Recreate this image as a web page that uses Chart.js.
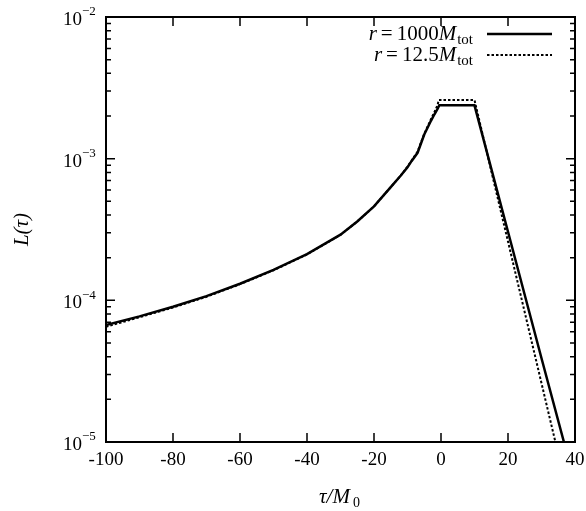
<!DOCTYPE html>
<html>
<head>
<meta charset="utf-8">
<script src="https://cdn.jsdelivr.net/npm/chart.js@4"></script>
<style>
  html, body { margin: 0; padding: 0; background: #fff; }
  #wrap { width: 586px; height: 511px; }
</style>
</head>
<body>
<div id="wrap"><canvas id="chart"></canvas></div>
<script>
// r = 1000 M_tot
const tauFar = [-100, -90, -80, -70, -60, -50, -40, -30, -25, -20, -15, -12, -10, -8.8, -7, -5, -3, -2, -1, -0.5, 10, 20, 30, 40];
const lumFar = [6.7e-5, 7.7e-5, 9.0e-5, 1.07e-4, 1.31e-4, 1.64e-4, 2.12e-4, 2.91e-4, 3.6e-4, 4.6e-4, 6.3e-4, 7.6e-4, 8.7e-4, 9.6e-4, 1.1e-3, 1.48e-3, 1.85e-3, 2.05e-3, 2.25e-3, 2.38e-3, 2.38e-3, 3.05e-4, 3.9e-5, 5.1e-6];
// r = 12.5 M_tot
const tauNear = [-100, -90, -80, -70, -60, -50, -40, -30, -25, -20, -15, -12, -10, -8.8, -7, -5, -3, -2, -1, -0.7, 10, 20, 30, 40];
const lumNear = [6.5e-5, 7.6e-5, 8.9e-5, 1.06e-4, 1.30e-4, 1.63e-4, 2.11e-4, 2.90e-4, 3.6e-4, 4.6e-4, 6.3e-4, 7.6e-4, 8.8e-4, 9.7e-4, 1.12e-3, 1.5e-3, 1.9e-3, 2.12e-3, 2.4e-3, 2.59e-3, 2.59e-3, 2.6e-4, 2.6e-5, 2.6e-6];
const xTicks = [-100, -80, -60, -40, -20, 0, 20, 40];
const yDecades = [1e-5, 1e-4, 1e-3, 1e-2];
const yExponents = ['−5', '−4', '−3', '−2'];

const FONT = '"Liberation Serif", "DejaVu Serif", serif';

function toPoints(xs, ys) {
    return xs.map((x, i) => ({ x: x, y: ys[i] }));
}

// gnuplot-style ticks pointing inwards on all four sides, plus text labels
const framePlugin = {
    id: 'frame',
    afterDraw(chart) {
        const ctx = chart.ctx;
        const a = chart.chartArea;
        const xs = chart.scales.x;
        const ys = chart.scales.y;
        ctx.save();
        ctx.strokeStyle = '#000';
        ctx.lineWidth = 2;
        ctx.strokeRect(a.left, a.top, a.right - a.left, a.bottom - a.top);
        ctx.lineWidth = 1.5;
        ctx.beginPath();
        xTicks.forEach(t => {
            const px = xs.getPixelForValue(t);
            ctx.moveTo(px, a.bottom); ctx.lineTo(px, a.bottom - 9);
            ctx.moveTo(px, a.top); ctx.lineTo(px, a.top + 9);
        });
        yDecades.forEach(d => {
            for (let m = 1; m <= 9; m++) {
                const v = d * m;
                if (v > 1e-2 * 1.001) break;
                const py = ys.getPixelForValue(v);
                const len = m === 1 ? 9 : 5;
                ctx.moveTo(a.left, py); ctx.lineTo(a.left + len, py);
                ctx.moveTo(a.right, py); ctx.lineTo(a.right - len, py);
            }
        });
        ctx.stroke();

        // tick labels
        ctx.fillStyle = '#000';
        ctx.font = '19px ' + FONT;
        ctx.textAlign = 'center';
        ctx.textBaseline = 'top';
        xTicks.forEach(t => {
            ctx.fillText(t < 0 ? '-' + Math.abs(t) : String(t), xs.getPixelForValue(t), a.bottom + 9);
        });
        yDecades.forEach((d, i) => {
            const py = ys.getPixelForValue(d);
            ctx.font = '19px ' + FONT;
            ctx.textAlign = 'right';
            ctx.textBaseline = 'middle';
            ctx.fillText('10', a.left - 24, py + 3);
            ctx.font = '13px ' + FONT;
            ctx.textAlign = 'left';
            ctx.fillText(yExponents[i], a.left - 24, py - 5);
        });

        // axis titles
        ctx.font = 'italic 21px ' + FONT;
        ctx.textAlign = 'center';
        ctx.textBaseline = 'alphabetic';
        const cx = (a.left + a.right) / 2;
        ctx.fillText('τ/M', cx - 6, 503);
        ctx.font = '14px ' + FONT;
        ctx.fillText('0', cx + 16, 507);
        ctx.save();
        ctx.translate(28, (a.top + a.bottom) / 2);
        ctx.rotate(-Math.PI / 2);
        ctx.font = 'italic 21px ' + FONT;
        ctx.fillText('L(τ)', 0, 0);
        ctx.restore();

        // legend
        const rows = [
            { label: '1000', dash: [], y: 40 },
            { label: '12.5', dash: [2.5, 2], y: 61 }
        ];
        rows.forEach(r => {
            ctx.textAlign = 'right';
            let right = 473;
            ctx.font = '15px ' + FONT;
            ctx.fillText('tot', right, r.y + 4);
            right -= ctx.measureText('tot').width + 1;
            ctx.font = 'italic 21px ' + FONT;
            ctx.fillText('M', right, r.y);
            right -= ctx.measureText('M').width;
            ctx.font = '21px ' + FONT;
            ctx.fillText(r.label, right, r.y);
            right -= ctx.measureText(r.label).width + 4;
            ctx.fillText('=', right, r.y);
            right -= ctx.measureText('=').width + 4;
            ctx.font = 'italic 21px ' + FONT;
            ctx.fillText('r', right, r.y);
            ctx.beginPath();
            ctx.setLineDash(r.dash);
            ctx.lineWidth = r.dash.length ? 2 : 2.5;
            ctx.moveTo(487, r.y - 6);
            ctx.lineTo(552, r.y - 6);
            ctx.stroke();
            ctx.setLineDash([]);
        });
        ctx.restore();
    }
};

new Chart(document.getElementById('chart'), {
    type: 'line',
    data: {
        datasets: [
            {
                label: 'r = 1000 M_tot',
                data: toPoints(tauFar, lumFar),
                borderColor: '#000',
                borderWidth: 2.5,
                pointRadius: 0,
                tension: 0
            },
            {
                label: 'r = 12.5 M_tot',
                data: toPoints(tauNear, lumNear),
                borderColor: '#000',
                borderWidth: 2,
                borderDash: [2.5, 2],
                pointRadius: 0,
                tension: 0
            }
        ]
    },
    options: {
        responsive: true,
        maintainAspectRatio: false,
        animation: false,
        layout: { padding: { top: 17, right: 11, left: 0, bottom: 0 } },
        plugins: { legend: { display: false }, tooltip: { enabled: false } },
        scales: {
            x: {
                type: 'linear',
                min: -100,
                max: 40,
                ticks: { display: false },
                grid: { display: false },
                border: { display: false },
                afterFit(s) { s.height = 69; }
            },
            y: {
                type: 'logarithmic',
                min: 1e-5,
                max: 1e-2,
                ticks: { display: false },
                grid: { display: false },
                border: { display: false },
                afterFit(s) { s.width = 106; }
            }
        }
    },
    plugins: [framePlugin]
});
</script>
</body>
</html>
